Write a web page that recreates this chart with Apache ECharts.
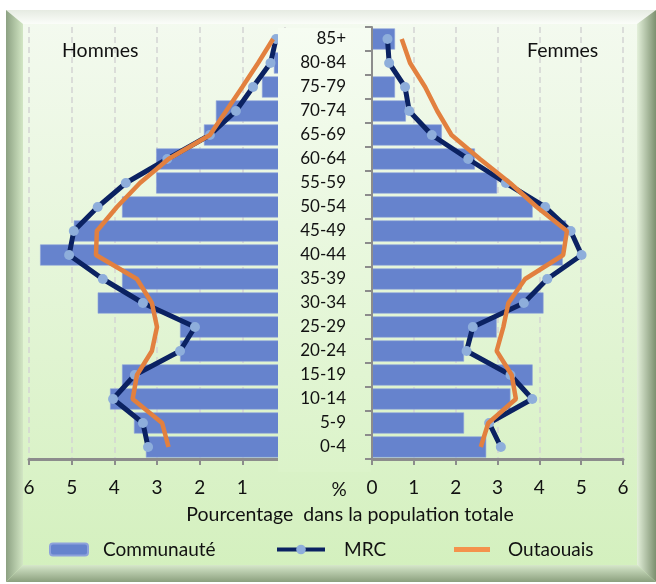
<!DOCTYPE html>
<html>
<head>
<meta charset="utf-8">
<script src="https://cdn.jsdelivr.net/npm/echarts@6/dist/echarts.min.js"></script>
<style>
html, body { margin: 0; padding: 0; background: #fff; }
#wrap { position: relative; width: 656px; height: 584px; overflow: hidden; }
.f { position: absolute; }
/* cadre biseauté */
#bg { left: 6px; top: 10px; width: 650px; height: 572px; background: linear-gradient(#f4faf0, #d3f0bd); }
#bt { left: 6px; top: 10px; width: 650px; height: 14px; background: linear-gradient(#e6ebe2, #fbfdf9);
      clip-path: polygon(0 0, 100% 0, calc(100% - 19px) 100%, 17px 100%); }
#bl { left: 6px; top: 10px; width: 17px; height: 572px; background: linear-gradient(to right, #8ca182, #d2e6c4);
      clip-path: polygon(0 0, 100% 14px, 100% calc(100% - 17px), 0 100%); }
#br { left: 637px; top: 10px; width: 19px; height: 572px; background: linear-gradient(to right, #e3f0da, #7c906f);
      clip-path: polygon(0 14px, 100% 0, 100% 100%, 0 calc(100% - 17px)); }
#bb { left: 6px; top: 565px; width: 650px; height: 17px; background: linear-gradient(#d6e7ca, #8ba07e);
      clip-path: polygon(17px 0, calc(100% - 19px) 0, 100% 100%, 0 100%); }
#chart { position: absolute; left: 0; top: 0; width: 656px; height: 584px; }
</style>
</head>
<body>
<div id="wrap">
  <div class="f" id="bg"></div>
  <div class="f" id="bt"></div>
  <div class="f" id="bl"></div>
  <div class="f" id="br"></div>
  <div class="f" id="bb"></div>
  <div id="chart"></div>
</div>
<script>
// groupes d'âge, du bas vers le haut
const ages = ['0-4', '5-9', '10-14', '15-19', '20-24', '25-29', '30-34', '35-39', '40-44',
  '45-49', '50-54', '55-59', '60-64', '65-69', '70-74', '75-79', '80-84', '85+'];

// Hommes (%)
const hommesCommunaute = [3.26, 3.54, 4.10, 3.82, 2.46, 2.46, 4.39, 3.82, 5.74,
  4.95, 3.82, 3.02, 3.02, 1.90, 1.62, 0.54, 0.26, 0];
const hommesMRC = [3.21, 3.33, 4.03, 3.52, 2.46, 2.11, 3.33, 4.27, 5.06,
  4.95, 4.39, 3.73, 2.76, 1.76, 1.15, 0.75, 0.34, 0.21];
const hommesOutaouais = [2.73, 2.88, 3.57, 3.47, 3.12, 3.00, 3.12, 3.47, 4.43,
  4.41, 3.94, 3.40, 2.73, 1.76, 1.38, 1.00, 0.63, 0.28];

// Femmes (%)
const femmesCommunaute = [2.73, 2.20, 3.31, 3.84, 2.20, 2.98, 4.10, 3.58, 4.56,
  4.64, 3.84, 2.99, 2.46, 1.67, 0.81, 0.55, 0, 0.55];
const femmesMRC = [3.08, 2.80, 3.83, 3.31, 2.26, 2.41, 3.63, 4.19, 5.01,
  4.75, 4.14, 3.20, 2.30, 1.43, 0.89, 0.79, 0.41, 0.37];
const femmesOutaouais = [2.60, 2.78, 3.44, 3.34, 2.98, 3.14, 3.26, 3.66, 4.57,
  4.66, 3.94, 3.30, 2.58, 1.90, 1.56, 1.27, 0.91, 0.71];

// graduations de l'axe des pourcentages
const xTicks = [0, 1, 2, 3, 4, 5, 6];

const font = 'Lato, "Open Sans", sans-serif';
const cBar = '#6683cd';
const cMRC = '#0b2262';
const cDot = '#8eaedb';
const cOrange = '#e2803f';

const chart = echarts.init(document.getElementById('chart'));

function xAxisCfg(grid, inverse, hideZero) {
  return {
    gridIndex: grid,
    type: 'value',
    inverse: inverse,
    min: xTicks[0],
    max: xTicks[xTicks.length - 1],
    interval: 1,
    axisLine: { show: true, lineStyle: { color: '#8c8c8c', width: 3 } },
    axisTick: { show: true, length: 6, lineStyle: { color: '#8c8c8c', width: 2 } },
    axisLabel: {
      margin: 19, fontSize: 19, color: '#111', fontFamily: font,
      formatter: v => (hideZero && v === 0) ? '' : String(v)
    },
    splitLine: { show: true, lineStyle: { color: '#d3d3d3', width: 1.5, type: [6, 4] } }
  };
}

const legendText = pad => ({ fontSize: 19, color: '#111', fontFamily: font, padding: [0, 0, 0, pad] });

const option = {
  animation: false,
  backgroundColor: 'transparent',
  grid: [
    { left: 29, top: 27, width: 256, height: 432 },
    { left: 372, top: 27, width: 251, height: 432 }
  ],
  xAxis: [xAxisCfg(0, true, true), xAxisCfg(1, false, false)],
  yAxis: [
    { gridIndex: 0, type: 'category', data: ages, axisLine: { show: false },
      axisTick: { show: false }, axisLabel: { show: false } },
    { gridIndex: 1, type: 'category', data: ages, z: 60,
      axisLine: { show: true, lineStyle: { color: '#8c8c8c', width: 2 } },
      axisTick: { show: true, length: 7, lineStyle: { color: '#8c8c8c', width: 2 } },
      axisLabel: { margin: 26, fontSize: 17, color: '#111', fontFamily: font } }
  ],
  legend: [
    { data: ['Communauté'], left: 49, top: 540, padding: 0, itemWidth: 38, itemHeight: 12,
      selectedMode: false, textStyle: legendText(10) },
    { data: [{ name: 'MRC', lineStyle: { width: 4 } }], left: 275, top: 540, padding: 0,
      itemWidth: 48, itemHeight: 12, selectedMode: false, textStyle: legendText(14) },
    { data: [{ name: 'Outaouais', icon: 'rect', itemStyle: { color: '#f4924c' } }], left: 454, top: 540,
      padding: 0, itemWidth: 36, itemHeight: 5, selectedMode: false, textStyle: legendText(13) }
  ],
  graphic: [
    { type: 'rect', z: 50, shape: { x: 278, y: 28, width: 93, height: 444 },
      style: { fill: new echarts.graphic.LinearGradient(0, 0, 0, 1, [
        { offset: 0, color: '#f6fcf2' }, { offset: 1, color: '#dbf3c9' }]) } },
    { type: 'text', z: 60, style: { x: 62, y: 51, text: 'Hommes', fontSize: 19.5, fontFamily: font,
      fill: '#111', textVerticalAlign: 'middle' } },
    { type: 'text', z: 60, style: { x: 527, y: 51, text: 'Femmes', fontSize: 19.5, fontFamily: font,
      fill: '#111', textVerticalAlign: 'middle' } },
    { type: 'text', z: 60, style: { x: 339, y: 490, text: '%', fontSize: 19, fontFamily: font,
      fill: '#111', textAlign: 'center', textVerticalAlign: 'middle' } },
    { type: 'text', z: 60, style: { x: 350, y: 515, text: 'Pourcentage  dans la population totale',
      fontSize: 19.5, fontFamily: font, fill: '#111', textAlign: 'center', textVerticalAlign: 'middle' } }
  ],
  series: [
    { name: 'Communauté', type: 'bar', xAxisIndex: 0, yAxisIndex: 0, data: hommesCommunaute,
      barCategoryGap: '12%', itemStyle: { color: cBar, borderColor: '#8ea2dc', borderWidth: 0.6 } },
    { name: 'MRC', type: 'line', xAxisIndex: 0, yAxisIndex: 0, data: hommesMRC, z: 3,
      symbol: 'circle', symbolSize: 10, lineStyle: { color: cMRC, width: 5 }, itemStyle: { color: cDot } },
    { name: 'Outaouais', type: 'line', xAxisIndex: 0, yAxisIndex: 0, data: hommesOutaouais, z: 4,
      symbol: 'none', lineStyle: { color: cOrange, width: 4.5 }, itemStyle: { color: cOrange } },
    { name: 'Communauté', type: 'bar', xAxisIndex: 1, yAxisIndex: 1, data: femmesCommunaute,
      barCategoryGap: '12%', itemStyle: { color: cBar, borderColor: '#8ea2dc', borderWidth: 0.6 } },
    { name: 'MRC', type: 'line', xAxisIndex: 1, yAxisIndex: 1, data: femmesMRC, z: 3,
      symbol: 'circle', symbolSize: 10, lineStyle: { color: cMRC, width: 5 }, itemStyle: { color: cDot } },
    { name: 'Outaouais', type: 'line', xAxisIndex: 1, yAxisIndex: 1, data: femmesOutaouais, z: 4,
      symbol: 'none', lineStyle: { color: cOrange, width: 4.5 }, itemStyle: { color: cOrange } }
  ]
};

chart.setOption(option);
</script>
</body>
</html>
